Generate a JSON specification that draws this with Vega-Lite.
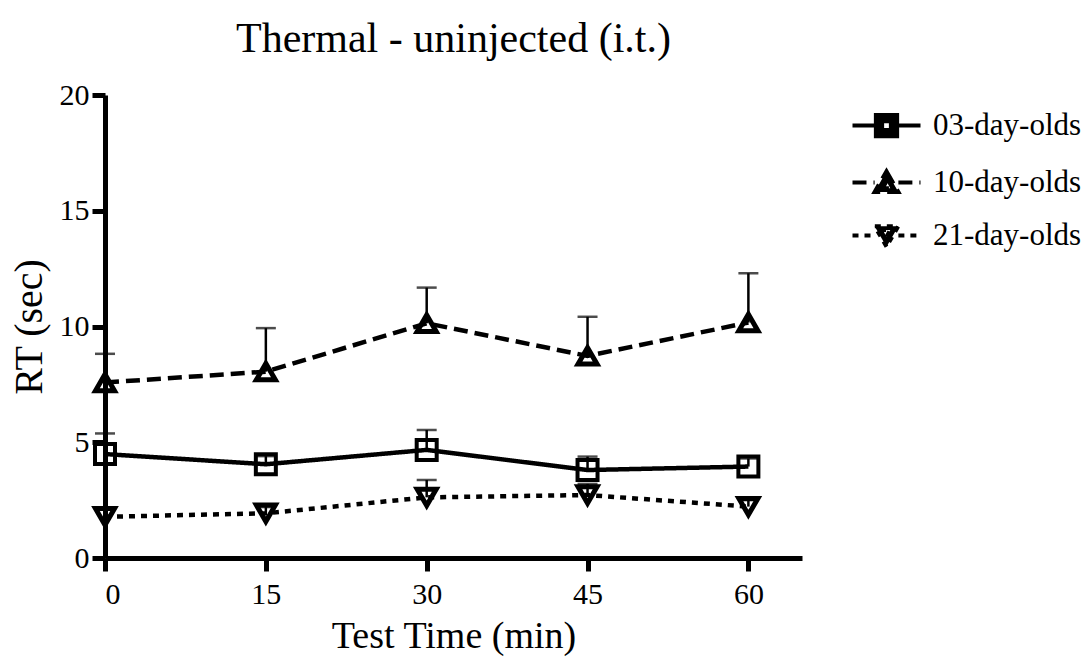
{
  "$schema": "https://vega.github.io/schema/vega-lite/v6.json",
  "autosize": "none",
  "width": 697,
  "height": 463,
  "padding": {"left": 105, "top": 95, "right": 287, "bottom": 99},
  "background": "white",
  "title": {
    "text": "Thermal - uninjected (i.t.)",
    "font": "Liberation Serif",
    "fontSize": 42,
    "fontWeight": "normal",
    "color": "black",
    "anchor": "middle",
    "offset": 19
  },
  "config": {
    "font": "Liberation Serif",
    "view": {"stroke": null},
    "axis": {
      "grid": false,
      "domainColor": "black",
      "domainWidth": 5,
      "tickColor": "black",
      "tickWidth": 5,
      "tickSize": 13,
      "labelFont": "Liberation Serif",
      "labelFontSize": 30,
      "labelColor": "black",
      "titleFont": "Liberation Serif",
      "titleFontSize": 38,
      "titleFontWeight": "normal",
      "titleColor": "black"
    },
    "legend": {"labelFont": "Liberation Serif"}
  },
  "data": {
    "values": [
      {"age": "03-day-olds", "time": 0, "rt": 4.49, "upper": 5.38},
      {"age": "03-day-olds", "time": 15, "rt": 4.05, "upper": 4.4},
      {"age": "03-day-olds", "time": 30, "rt": 4.67, "upper": 5.53},
      {"age": "03-day-olds", "time": 45, "rt": 3.8, "upper": 4.38},
      {"age": "03-day-olds", "time": 60, "rt": 3.95, "upper": 4.3},
      {"age": "10-day-olds", "time": 0, "rt": 7.58, "upper": 8.82},
      {"age": "10-day-olds", "time": 15, "rt": 8.05, "upper": 9.93},
      {"age": "10-day-olds", "time": 30, "rt": 10.14, "upper": 11.68},
      {"age": "10-day-olds", "time": 45, "rt": 8.73, "upper": 10.42},
      {"age": "10-day-olds", "time": 60, "rt": 10.17, "upper": 12.3},
      {"age": "21-day-olds", "time": 0, "rt": 1.78, "upper": 2.1},
      {"age": "21-day-olds", "time": 15, "rt": 1.93, "upper": 2.2},
      {"age": "21-day-olds", "time": 30, "rt": 2.62, "upper": 3.37},
      {"age": "21-day-olds", "time": 45, "rt": 2.72, "upper": 3.2},
      {"age": "21-day-olds", "time": 60, "rt": 2.22, "upper": 2.5}
    ]
  },
  "encoding": {
    "x": {
      "field": "time",
      "type": "quantitative",
      "scale": {"domain": [0, 65], "nice": false, "zero": false},
      "axis": {
        "values": [0, 15, 30, 45, 60],
        "title": "Test Time (min)",
        "labelPadding": 8,
        "titlePadding": 8,
        "encode": {"labels": {"update": {"font": {"value": "Liberation Serif"}}}}
      }
    }
  },
  "layer": [
    {
      "mark": {"type": "rule", "color": "black", "strokeWidth": 2.5},
      "encoding": {
        "y": {"field": "rt", "type": "quantitative"},
        "y2": {"field": "upper"}
      }
    },
    {
      "mark": {"type": "tick", "orient": "horizontal", "color": "black", "size": 20, "thickness": 2.5},
      "encoding": {
        "y": {"field": "upper", "type": "quantitative"}
      }
    },
    {
      "mark": {"type": "line", "color": "black", "strokeWidth": 4.5},
      "encoding": {
        "y": {
          "field": "rt",
          "type": "quantitative",
          "scale": {"domain": [0, 20], "nice": false},
          "axis": {
            "values": [0, 5, 10, 15, 20],
            "title": "RT (sec)",
            "titleFontSize": 40,
            "labelPadding": 3,
            "titlePadding": 10,
            "encode": {"labels": {"update": {"font": {"value": "Liberation Serif"}}}}
          }
        },
        "strokeDash": {
          "field": "age",
          "type": "nominal",
          "scale": {"domain": ["03-day-olds", "10-day-olds", "21-day-olds"], "range": [[1, 0], [14, 7], [6, 6]]},
          "legend": {
            "title": null,
            "orient": "none",
            "legendX": 766,
            "legendY": 15,
            "labelFont": "Liberation Serif",
            "labelFontSize": 31,
            "labelColor": "black",
            "labelOffset": 31,
            "symbolSize": 625,
            "symbolStrokeWidth": 4,
            "symbolStrokeColor": "black",
            "rowPadding": 18,
            "encode": {
              "labels": {
                "update": {"font": {"value": "Liberation Serif"}}
              },
              "symbols": {
                "update": {
                  "shape": {"signal": "datum.value === '03-day-olds' ? 'M-2.72,0L-0.85,0M0.85,0L2.72,0M-0.85,-0.85L0.85,-0.85L0.85,0.85L-0.85,0.85ZM-0.35,-0.35L-0.35,0.35L0.35,0.35L0.35,-0.35Z' : datum.value === '10-day-olds' ? 'M-2.72,0L-0.95,0M0.95,0L2.72,0M0,-0.9L0.95,0.75L-0.95,0.75ZM0,-0.1L-0.3,0.45L0.3,0.45Z' : 'M-2.72,0L-0.95,0M0.95,0L2.72,0M0,0.9L-0.95,-0.75L0.95,-0.75ZM0,0.1L0.3,-0.45L-0.3,-0.45Z'"},
                  "fill": {"value": "black"},
                  "fillOpacity": {"value": 1},
                  "stroke": {"value": "black"},
                  "strokeWidth": {"value": 4},
                  "strokeOpacity": {"value": 1}
                }
              }
            }
          }
        }
      }
    },
    {
      "transform": [{"filter": "datum.age === '03-day-olds'"}],
      "mark": {"type": "point", "shape": "square", "filled": false, "color": "black", "strokeWidth": 4, "size": 400, "opacity": 1},
      "encoding": {
        "y": {"field": "rt", "type": "quantitative"}
      }
    },
    {
      "transform": [{"filter": "datum.age === '10-day-olds'"}],
      "mark": {"type": "point", "shape": "triangle-up", "filled": false, "color": "black", "strokeWidth": 5, "size": 360, "opacity": 1},
      "encoding": {
        "y": {"field": "rt", "type": "quantitative"}
      }
    },
    {
      "transform": [{"filter": "datum.age === '21-day-olds'"}],
      "mark": {"type": "point", "shape": "triangle-down", "filled": false, "color": "black", "strokeWidth": 5, "size": 360, "opacity": 1},
      "encoding": {
        "y": {"field": "rt", "type": "quantitative"}
      }
    }
  ]
}
